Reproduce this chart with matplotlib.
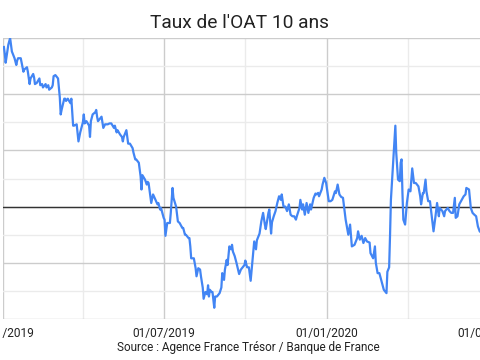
import matplotlib
matplotlib.use("Agg")
import matplotlib.pyplot as plt
import matplotlib.dates as mdates
import numpy as np
import pandas as pd

plt.rcParams['font.family'] = ['Roboto', 'DejaVu Sans']

# OAT 10 ans (%)
dates = [
    "2019-01-02", "2019-01-03", "2019-01-04", "2019-01-07", "2019-01-09", "2019-01-11",
    "2019-01-14", "2019-01-16", "2019-01-17", "2019-01-18", "2019-01-21", "2019-01-22",
    "2019-01-24", "2019-01-25", "2019-01-28", "2019-01-29", "2019-01-31", "2019-02-01",
    "2019-02-04", "2019-02-05", "2019-02-06", "2019-02-08", "2019-02-11", "2019-02-12",
    "2019-02-14", "2019-02-15", "2019-02-18", "2019-02-19", "2019-02-21", "2019-02-22",
    "2019-02-25", "2019-02-26", "2019-02-27", "2019-03-01", "2019-03-04", "2019-03-06",
    "2019-03-07", "2019-03-08", "2019-03-11", "2019-03-12", "2019-03-13", "2019-03-15",
    "2019-03-18", "2019-03-19", "2019-03-21", "2019-03-22", "2019-03-25", "2019-03-27",
    "2019-03-29", "2019-04-01", "2019-04-02", "2019-04-03", "2019-04-05", "2019-04-08",
    "2019-04-09", "2019-04-10", "2019-04-12", "2019-04-15", "2019-04-16", "2019-04-17",
    "2019-04-18", "2019-04-22", "2019-04-24", "2019-04-26", "2019-04-29", "2019-05-01",
    "2019-05-03", "2019-05-06", "2019-05-07", "2019-05-09", "2019-05-10", "2019-05-13",
    "2019-05-15", "2019-05-16", "2019-05-17", "2019-05-20", "2019-05-22", "2019-05-24",
    "2019-05-27", "2019-05-28", "2019-05-30", "2019-05-31", "2019-06-03", "2019-06-05",
    "2019-06-06", "2019-06-07", "2019-06-10", "2019-06-12", "2019-06-13", "2019-06-14",
    "2019-06-17", "2019-06-19", "2019-06-20", "2019-06-24", "2019-06-25", "2019-06-27",
    "2019-06-28", "2019-07-01", "2019-07-02", "2019-07-03", "2019-07-05", "2019-07-08",
    "2019-07-09", "2019-07-11", "2019-07-12", "2019-07-15", "2019-07-17", "2019-07-19",
    "2019-07-22", "2019-07-23", "2019-07-25", "2019-07-26", "2019-07-29", "2019-07-30",
    "2019-07-31", "2019-08-01", "2019-08-04", "2019-08-06", "2019-08-07", "2019-08-09",
    "2019-08-11", "2019-08-12", "2019-08-14", "2019-08-15", "2019-08-17", "2019-08-19",
    "2019-08-20", "2019-08-21", "2019-08-22", "2019-08-24", "2019-08-25", "2019-08-27",
    "2019-08-28", "2019-08-30", "2019-09-02", "2019-09-04", "2019-09-05", "2019-09-07",
    "2019-09-08", "2019-09-10", "2019-09-11", "2019-09-13", "2019-09-15", "2019-09-16",
    "2019-09-17", "2019-09-19", "2019-09-21", "2019-09-24", "2019-09-26", "2019-09-28",
    "2019-09-30", "2019-10-01", "2019-10-03", "2019-10-05", "2019-10-07", "2019-10-09",
    "2019-10-11", "2019-10-13", "2019-10-14", "2019-10-17", "2019-10-19", "2019-10-21",
    "2019-10-23", "2019-10-24", "2019-10-27", "2019-10-28", "2019-10-30", "2019-10-31",
    "2019-11-02", "2019-11-04", "2019-11-06", "2019-11-08", "2019-11-10", "2019-11-11",
    "2019-11-13", "2019-11-15", "2019-11-17", "2019-11-19", "2019-11-21", "2019-11-23",
    "2019-11-25", "2019-11-27", "2019-11-28", "2019-12-01", "2019-12-02", "2019-12-04",
    "2019-12-05", "2019-12-07", "2019-12-09", "2019-12-11", "2019-12-13", "2019-12-14",
    "2019-12-17", "2019-12-19", "2019-12-20", "2019-12-22", "2019-12-23", "2019-12-26",
    "2019-12-27", "2019-12-29", "2019-12-31", "2020-01-03", "2020-01-05", "2020-01-07",
    "2020-01-10", "2020-01-11", "2020-01-13", "2020-01-15", "2020-01-17", "2020-01-19",
    "2020-01-22", "2020-01-23", "2020-01-25", "2020-01-27", "2020-01-29", "2020-02-01",
    "2020-02-04", "2020-02-05", "2020-02-07", "2020-02-09", "2020-02-11", "2020-02-13",
    "2020-02-15", "2020-02-18", "2020-02-19", "2020-02-22", "2020-02-24", "2020-02-25",
    "2020-02-27", "2020-02-29", "2020-03-03", "2020-03-05", "2020-03-08", "2020-03-09",
    "2020-03-11", "2020-03-12", "2020-03-13", "2020-03-15", "2020-03-17", "2020-03-18",
    "2020-03-19", "2020-03-21", "2020-03-23", "2020-03-24", "2020-03-25", "2020-03-26",
    "2020-03-27", "2020-03-29", "2020-03-31", "2020-04-02", "2020-04-04", "2020-04-06",
    "2020-04-08", "2020-04-10", "2020-04-13", "2020-04-15", "2020-04-16", "2020-04-18",
    "2020-04-19", "2020-04-21", "2020-04-22", "2020-04-24", "2020-04-26", "2020-04-28",
    "2020-04-30", "2020-05-02", "2020-05-04", "2020-05-06", "2020-05-07", "2020-05-10",
    "2020-05-12", "2020-05-13", "2020-05-16", "2020-05-18", "2020-05-20", "2020-05-22",
    "2020-05-24", "2020-05-25", "2020-05-27", "2020-05-29", "2020-05-31", "2020-06-03",
    "2020-06-05", "2020-06-06", "2020-06-09", "2020-06-11", "2020-06-13", "2020-06-15",
    "2020-06-17", "2020-06-19", "2020-06-21", "2020-06-24",
]
taux = [
    0.71, 0.68, 0.64, 0.72, 0.75, 0.69,
    0.66, 0.63, 0.65, 0.66, 0.66, 0.64,
    0.60, 0.61, 0.62, 0.60, 0.545, 0.57,
    0.59, 0.575, 0.545, 0.55, 0.57, 0.54,
    0.545, 0.53, 0.545, 0.53, 0.54, 0.52,
    0.53, 0.54, 0.58, 0.585, 0.57, 0.485,
    0.41, 0.43, 0.48, 0.48, 0.47, 0.48,
    0.46, 0.48, 0.36, 0.36, 0.366, 0.29,
    0.33, 0.375, 0.41, 0.37, 0.38, 0.36,
    0.31, 0.38, 0.41, 0.42, 0.43, 0.40,
    0.38, 0.40, 0.35, 0.366, 0.366, 0.37,
    0.37, 0.35, 0.36, 0.33, 0.34, 0.32,
    0.31, 0.29, 0.31, 0.34, 0.28, 0.28,
    0.26, 0.24, 0.21, 0.21, 0.195, 0.135,
    0.076, 0.14, 0.12, 0.098, 0.11, 0.105,
    0.016, 0.054, 0.046, 0.01, 0.016, -0.013,
    -0.006, -0.05, -0.058, -0.13, -0.073, -0.073,
    -0.028, 0.083, 0.039, 0.0, -0.066, -0.073,
    -0.095, -0.095, -0.125, -0.125, -0.14, -0.14,
    -0.177, -0.23, -0.23, -0.274, -0.31, -0.274,
    -0.28, -0.31, -0.36, -0.41, -0.38, -0.39,
    -0.35, -0.40, -0.37, -0.38, -0.38, -0.45,
    -0.40, -0.40, -0.385, -0.36, -0.296, -0.326,
    -0.28, -0.237, -0.26, -0.177, -0.19, -0.17,
    -0.20, -0.22, -0.25, -0.30, -0.28, -0.27,
    -0.26, -0.24, -0.27, -0.27, -0.33, -0.24,
    -0.155, -0.19, -0.15, -0.12, -0.066, -0.028,
    -0.08, -0.10, -0.028, -0.013, -0.12, -0.07,
    -0.043, -0.02, 0.016, 0.046, 0.03, 0.054,
    0.0, 0.0, -0.02, 0.01, -0.036, -0.043,
    -0.043, -0.058, -0.043, -0.006, 0.03, -0.013,
    0.01, -0.036, 0.016, -0.028, 0.01, -0.013,
    0.039, 0.058, 0.054, 0.061, 0.046, 0.076,
    0.098, 0.128, 0.105, 0.024, 0.024, 0.03,
    0.068, 0.06, 0.098, 0.054, 0.043, 0.039,
    -0.058, -0.08, -0.125, -0.08, -0.177, -0.17,
    -0.14, -0.11, -0.147, -0.13, -0.162, -0.14,
    -0.155, -0.16, -0.207, -0.23, -0.177, -0.25,
    -0.296, -0.296, -0.34, -0.37, -0.385, -0.29,
    -0.27, -0.13, 0.03, 0.165, 0.30, 0.36,
    0.24, 0.12, 0.113, 0.195, 0.21, 0.06,
    -0.058, -0.08, 0.016, 0.076, 0.068, 0.17,
    0.105, 0.105, 0.09, 0.046, 0.01, 0.06,
    0.06, 0.12, 0.068, 0.024, 0.024, -0.043,
    -0.11, -0.05, 0.016, -0.043, -0.006, -0.02,
    -0.043, -0.02, -0.006, -0.02, -0.028, -0.028,
    0.039, -0.05, -0.043, 0.01, 0.024, 0.046,
    0.054, 0.083, 0.076, -0.006, -0.028, -0.036,
    -0.043, -0.088, -0.11, -0.12,
]

title = "Taux de l'OAT 10 ans"
source = "Source : Agence France Trésor / Banque de France"
major_ticks = ["2019-01-01", "2019-07-01", "2020-01-01", "2020-07-01"]
minor_ticks = ["2019-04-01", "2019-10-01", "2020-04-01"]

x = pd.to_datetime(dates)

fig = plt.figure(figsize=(4.8, 3.6), dpi=100)
# plot area runs off the right edge of the picture, as in the reference crop
ax = fig.add_axes([3 / 480, 41 / 360, 497 / 480, 281 / 360])

ax.plot(x, taux, color="#4285f4", lw=1.6, solid_joinstyle="round", zorder=3)

start = pd.Timestamp("2019-01-01")
ax.set_xlim(start, start + pd.Timedelta(days=497 / 324 * 365))
ax.set_ylim(-0.5, 0.75)

ax.set_xticks(pd.to_datetime(major_ticks))
ax.set_xticks(pd.to_datetime(minor_ticks), minor=True)
ax.xaxis.set_major_formatter(mdates.DateFormatter("%d/%m/%Y"))
ax.set_yticks(np.arange(-0.5, 0.76, 0.25))
ax.set_yticks(np.arange(-0.375, 0.76, 0.25), minor=True)
ax.set_yticklabels([])

ax.grid(which="major", color="#cccccc", lw=1.0, zorder=0)
ax.grid(which="minor", color="#ebebeb", lw=1.0, zorder=0)
ax.axhline(0, color="#333333", lw=1.0, zorder=2)

for s in ax.spines.values():
    s.set_visible(False)

ax.tick_params(which="both", length=0)
ax.tick_params(axis="x", pad=5.5, labelsize=8.6, labelcolor="#222222")

fig.text(0.5, 1 - 23 / 360, title, ha="center", va="center", fontsize=13.8, color="#222222")
fig.text(248 / 480, 12 / 360, source, ha="center", va="center", fontsize=8.5, color="#222222")

fig.savefig("out.png", dpi=100)
